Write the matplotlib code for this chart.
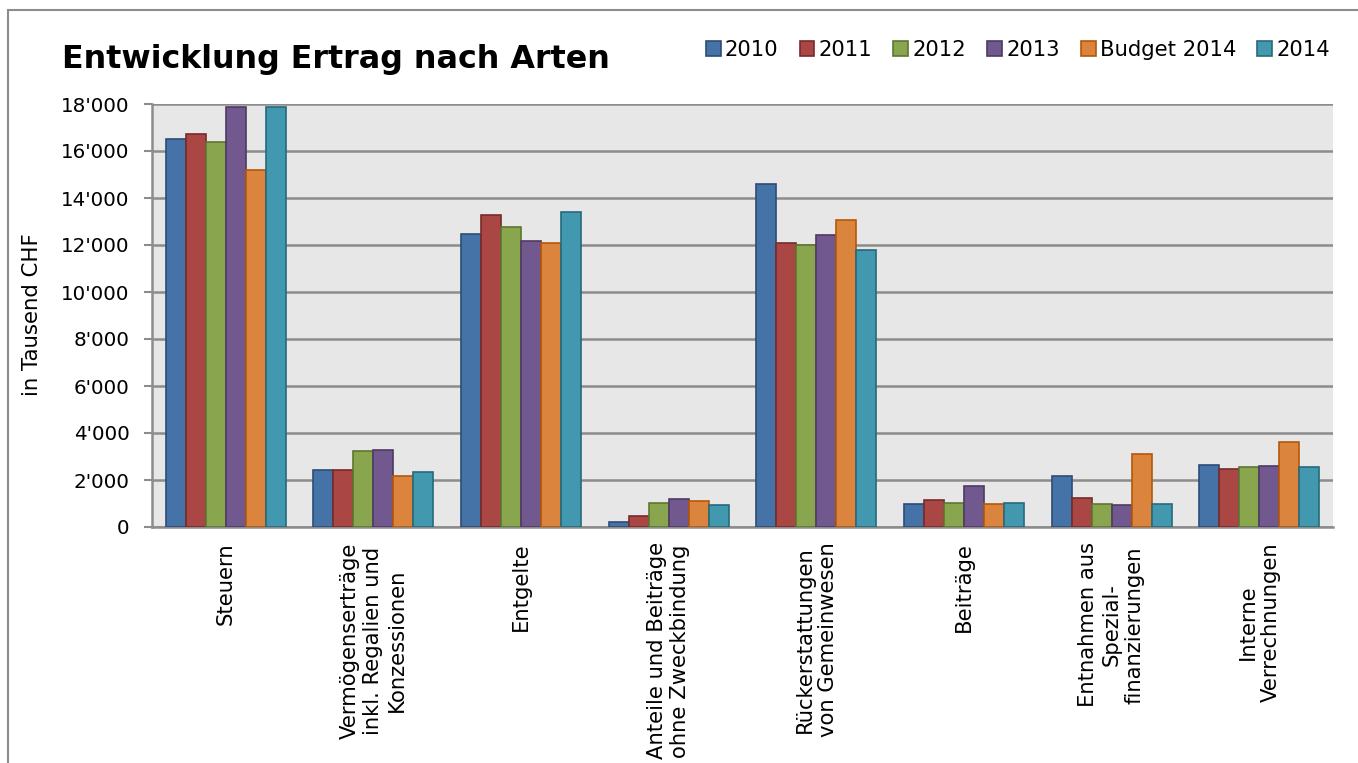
import matplotlib
matplotlib.use("Agg")
import matplotlib.pyplot as plt
from matplotlib.patches import Rectangle
from matplotlib.ticker import FuncFormatter
import numpy as np

categories = [
    "Steuern",
    "Vermögenserträge\ninkl. Regalien und\nKonzessionen",
    "Entgelte",
    "Anteile und Beiträge\nohne Zweckbindung",
    "Rückerstattungen\nvon Gemeinwesen",
    "Beiträge",
    "Entnahmen aus\nSpezial-\nfinanzierungen",
    "Interne\nVerrechnungen",
]
series_names = ["2010", "2011", "2012", "2013", "Budget 2014", "2014"]

v2010 = [16500, 2410, 12470, 230, 14580, 970, 2180, 2620]
v2011 = [16740, 2410, 13280, 450, 12070, 1130, 1220, 2450]
v2012 = [16380, 3230, 12770, 1040, 12000, 1010, 990, 2540]
v2013 = [17860, 3290, 12190, 1180, 12410, 1730, 920, 2580]
vbudget = [15190, 2180, 12100, 1090, 13060, 980, 3100, 3630]
v2014 = [17860, 2350, 13400, 950, 11770, 1010, 990, 2570]

values = [v2010, v2011, v2012, v2013, vbudget, v2014]
colors = ['#4572A7', '#AA4643', '#89A54E', '#71588F', '#DB843D', '#4198AF']
edges = ['#2C4D75', '#772C2A', '#5F7530', '#4D3B62', '#B65708', '#276A7C']

W, H = 1358, 763
fig = plt.figure(figsize=(W / 100, H / 100), dpi=100)
ax = fig.add_axes([152 / W, 1 - 527 / H, (1333 - 152) / W, (527 - 104) / H])
ax.set_facecolor('#E7E7E7')

x = np.arange(len(categories))
bw = 0.1355
for j, (name, vals) in enumerate(zip(series_names, values)):
    ax.bar(x + (j - 2.5) * bw, vals, width=bw, color=colors[j],
           edgecolor=edges[j], linewidth=1.2, label=name, zorder=3)

ax.set_xlim(-0.5, len(categories) - 0.5)
ax.set_ylim(0, 18000)
ax.set_yticks(range(0, 18001, 2000))
ax.yaxis.set_major_formatter(FuncFormatter(lambda v, p: f"{int(v):,}".replace(",", "'")))
ax.grid(axis='y', color='#8C8C8C', linewidth=1.8, zorder=1)
ax.set_axisbelow(True)

for s in ['right', 'top']:
    ax.spines[s].set_visible(False)
for s in ['left', 'bottom']:
    ax.spines[s].set_color('#8C8C8C')
    ax.spines[s].set_linewidth(1.8)

ax.tick_params(axis='y', length=6, width=1.5, color='#8C8C8C', pad=10,
               labelsize=14.3, labelcolor='black')
ax.set_xticks(x)
ax.set_xticklabels(categories, rotation=90, ha='center', va='top',
                   multialignment='center', fontsize=15.2)
ax.tick_params(axis='x', length=0, pad=11)

fig.text(32 / W, 1 - 315 / H, "in Tausend CHF", rotation=90, ha='center',
         va='center', fontsize=15.3)
fig.text(62 / W, 1 - 68 / H, "Entwicklung Ertrag nach Arten", fontsize=22.9,
         fontweight='bold', ha='left', va='baseline')

leg = fig.legend(loc='upper right', bbox_to_anchor=(1330 / W, 1 - 40 / H),
                 ncol=6, frameon=False, fontsize=15.2, handlelength=0.7,
                 handleheight=0.7, handletextpad=0.2, columnspacing=1.0,
                 borderaxespad=0, borderpad=0)

top = 1 - 10 / H
fig.patches.append(Rectangle((8 / W, -0.1), 1.2, top + 0.1,
                             transform=fig.transFigure, fill=False,
                             edgecolor='#8C8C8C', linewidth=1.5))

fig.savefig("out.png", dpi=100)
